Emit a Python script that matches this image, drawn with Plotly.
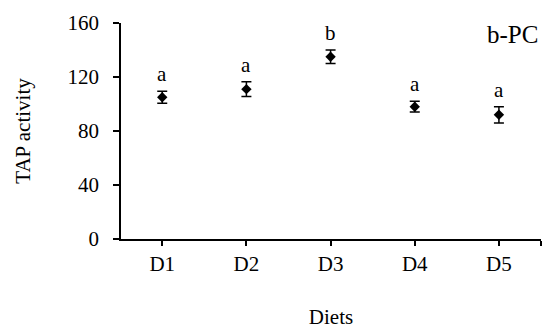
import plotly.graph_objects as go

diets = ["D1", "D2", "D3", "D4", "D5"]
tap_mean = [105, 111, 135, 98, 92]
tap_err = [4.5, 5.5, 5, 4, 6]
letters = ["a", "a", "b", "a", "a"]
y_ticks = [0, 40, 80, 120, 160]

FONT = "Liberation Serif"
FS = 21
xpos = list(range(len(diets)))

fig = go.Figure()
fig.add_trace(go.Scatter(
    x=xpos, y=tap_mean, mode="markers",
    marker=dict(symbol="diamond", size=8, color="black"),
    error_y=dict(type="data", array=tap_err, visible=True,
                 color="black", thickness=1.5, width=5),
    showlegend=False,
))

# significance letters above each error bar
for xi, m, e, lab in zip(xpos, tap_mean, tap_err, letters):
    fig.add_annotation(x=xi, y=m + e, text=lab, showarrow=False,
                       yanchor="bottom", yshift=3,
                       font=dict(family=FONT, size=FS, color="black"))

fig.add_annotation(x=1, y=1, xref="paper", yref="paper", text="b-PC",
                   showarrow=False, xanchor="right", yanchor="top",
                   xshift=-1, yshift=4,
                   font=dict(family=FONT, size=25, color="black"))

fig.update_xaxes(
    range=[-0.49, 4.5],
    tickvals=xpos + [4.5], ticktext=diets + [""],
    showline=True, linecolor="black", linewidth=1.5,
    ticks="outside", ticklen=5, tickwidth=1.5, tickcolor="black",
    showgrid=False, zeroline=False, automargin=False,
    tickfont=dict(family=FONT, size=FS, color="black"),
    title=dict(text="Diets", font=dict(family=FONT, size=FS, color="black"),
               standoff=41),
)
fig.update_yaxes(
    range=[0, 160], tickvals=y_ticks,
    showline=True, linecolor="black", linewidth=1.5,
    ticks="outside", ticklen=6, tickwidth=1.5, tickcolor="black",
    ticklabelstandoff=10,
    showgrid=False, zeroline=False, automargin=False,
    tickfont=dict(family=FONT, size=FS, color="black"),
    title=dict(text="TAP activity", font=dict(family=FONT, size=FS, color="black"),
               standoff=31),
)
fig.update_layout(
    width=542, height=329,
    margin=dict(l=121, r=1, t=23, b=90),
    plot_bgcolor="white", paper_bgcolor="white",
)
fig.write_html("out.html")
